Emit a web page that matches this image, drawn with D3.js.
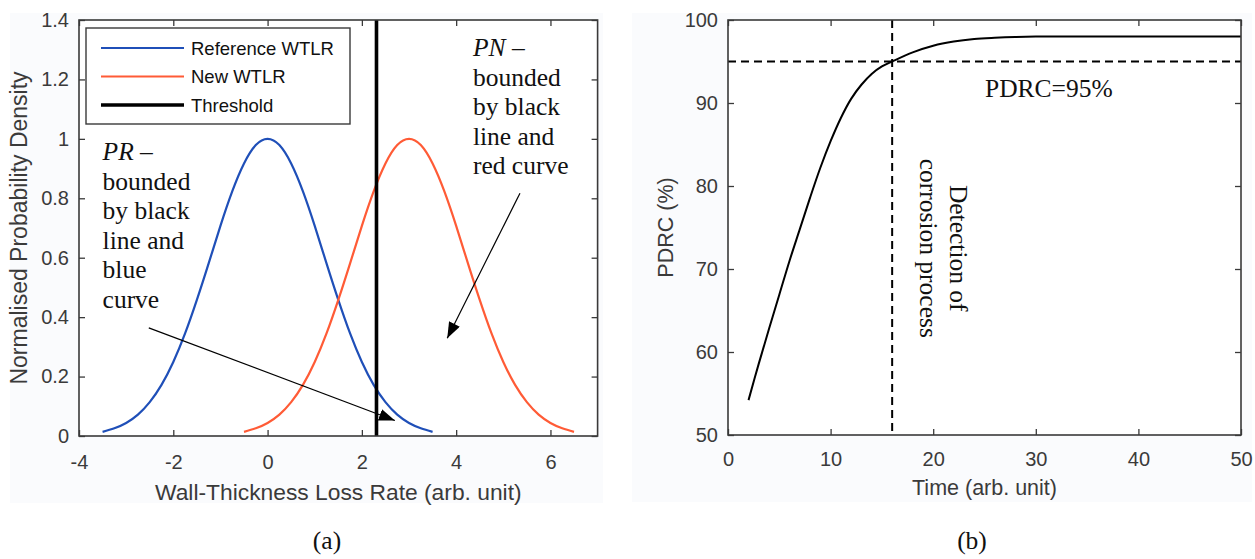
<!DOCTYPE html>
<html>
<head>
<meta charset="utf-8">
<script src="https://cdn.jsdelivr.net/npm/d3@7"></script>
<style>
  body { margin: 0; background: #fff; }
  .tick text { font-family: "Liberation Sans", Arial, sans-serif; font-size: 20px; fill: #3a3a3a; }
  .tick line { stroke: #3a3a3a; stroke-width: 1.3; }
  .axis-label { font-family: "Liberation Sans", Arial, sans-serif; font-size: 21.5px; fill: #3a3a3a; }
  .serif { font-family: "Liberation Serif", "Times New Roman", serif; font-size: 25.5px; fill: #111; }
</style>
</head>
<body>
<svg id="chart" width="1255" height="559"></svg>
<script>
// panel (a): normalised densities, read at 0.25 steps around each mean
const wtlrOffsets = [-3.5, -3.25, -3, -2.75, -2.5, -2.25, -2, -1.75, -1.5, -1.25, -1, -0.75, -0.5, -0.25, 0,
                     0.25, 0.5, 0.75, 1, 1.25, 1.5, 1.75, 2, 2.25, 2.5, 2.75, 3, 3.25, 3.5];
const densityValues = [0.014, 0.026, 0.044, 0.072, 0.114, 0.172, 0.249, 0.345, 0.458, 0.581, 0.707, 0.823, 0.917, 0.979, 1,
                       0.979, 0.917, 0.823, 0.707, 0.581, 0.458, 0.345, 0.249, 0.172, 0.114, 0.072, 0.044, 0.026, 0.014];
const referenceMean = 0;
const newMean = 3;
const threshold = 2.31;
const legendLabels = ["Reference WTLR", "New WTLR", "Threshold"];
const legendColors = ["#1f4fb8", "#ff5b36", "#000"];
const xTicksA = [-4, -2, 0, 2, 4, 6];
const yTicksA = [0, 0.2, 0.4, 0.6, 0.8, 1, 1.2, 1.4];

// panel (b): PDRC vs time
const timeValues = [2, 3, 4, 5, 6, 7, 8, 9, 10, 11, 12, 13, 14, 15, 16, 18, 20, 22, 24, 26, 28, 30, 35, 40, 45, 50];
const pdrcValues = [54.2, 58.6, 62.8, 66.9, 71, 74.8, 78.6, 82.2, 85.4, 88.2, 90.5, 92.2, 93.5, 94.4, 95.0, 96.1, 96.9, 97.4, 97.7, 97.85, 97.95, 98, 98, 98, 98, 98];
const pdrcLevel = 95;
const detectionTime = 16;
const xTicksB = [0, 10, 20, 30, 40, 50];
const yTicksB = [50, 60, 70, 80, 90, 100];

const svg = d3.select("#chart");
const axisColor = "#3a3a3a";

// faint figure backgrounds
svg.append("rect").attr("x", 10).attr("y", 13).attr("width", 593).attr("height", 490).attr("fill", "#fafbfd");
svg.append("rect").attr("x", 632).attr("y", 13).attr("width", 620).attr("height", 489).attr("fill", "#fafbfd");

// arrowhead marker
svg.append("defs").append("marker")
    .attr("id", "head")
    .attr("markerUnits", "userSpaceOnUse")
    .attr("viewBox", "0 -6 16 12")
    .attr("refX", 16).attr("refY", 0)
    .attr("markerWidth", 16).attr("markerHeight", 12)
    .attr("orient", "auto")
  .append("path")
    .attr("d", "M0,-6L16,0L0,6Z")
    .attr("fill", "#000");

const plain = d => String(d);

function frame(x, y, xt, yt, padX, padY) {
  const [x0, x1] = x.range(), [y0, y1] = y.range();
  const g = svg.append("g");
  g.append("rect")
      .attr("x", x0).attr("y", y1)
      .attr("width", x1 - x0).attr("height", y0 - y1)
      .attr("fill", "#fff");
  g.append("g").attr("transform", "translate(0," + y0 + ")")
      .call(d3.axisBottom(x).tickValues(xt).tickSize(-6).tickPadding(padX).tickFormat(plain))
      .call(a => a.select(".domain").remove());
  g.append("g").attr("transform", "translate(" + x0 + ",0)")
      .call(d3.axisLeft(y).tickValues(yt).tickSize(-6).tickPadding(padY).tickFormat(plain))
      .call(a => a.select(".domain").remove());
  g.append("g").attr("transform", "translate(0," + y1 + ")")
      .call(d3.axisTop(x).tickValues(xt).tickSize(-6).tickFormat(""))
      .call(a => a.select(".domain").remove());
  g.append("g").attr("transform", "translate(" + x1 + ",0)")
      .call(d3.axisRight(y).tickValues(yt).tickSize(-6).tickFormat(""))
      .call(a => a.select(".domain").remove());
  g.selectAll(".tick text").attr("font-family", null).attr("font-size", null);
  return g;
}

function box(x, y) {
  const [x0, x1] = x.range(), [y0, y1] = y.range();
  svg.append("rect")
      .attr("x", x0).attr("y", y1)
      .attr("width", x1 - x0).attr("height", y0 - y1)
      .attr("fill", "none").attr("stroke", axisColor).attr("stroke-width", 1.6);
}

// ---------- panel (a) ----------
const xA = d3.scaleLinear().domain([-4, 7]).range([79, 597.6]);
const yA = d3.scaleLinear().domain([0, 1.4]).range([436, 20]);
frame(xA, yA, xTicksA, yTicksA, 19, 10);

const curveA = d3.line()
    .x(d => xA(d[0]))
    .y(d => yA(d[1]))
    .curve(d3.curveNatural);

[referenceMean, newMean].forEach((m, i) => {
  svg.append("path")
      .datum(wtlrOffsets.map((o, j) => [m + o, densityValues[j]]))
      .attr("d", curveA)
      .attr("fill", "none")
      .attr("stroke", legendColors[i])
      .attr("stroke-width", 2.2);
});

svg.append("line")
    .attr("x1", xA(threshold)).attr("x2", xA(threshold))
    .attr("y1", yA(0)).attr("y2", yA(1.4))
    .attr("stroke", "#000").attr("stroke-width", 3.6);

// legend
const legend = svg.append("g");
legend.append("rect")
    .attr("x", 86).attr("y", 28).attr("width", 264).attr("height", 96)
    .attr("fill", "#fff").attr("stroke", axisColor).attr("stroke-width", 1.4);
legendLabels.forEach((lab, i) => {
  const yy = 48 + i * 28.5;
  legend.append("line")
      .attr("x1", 101).attr("x2", 184).attr("y1", yy).attr("y2", yy)
      .attr("stroke", legendColors[i]).attr("stroke-width", i == 2 ? 3.6 : 2.2);
  legend.append("text")
      .attr("x", 191).attr("y", yy + 6.5)
      .attr("font-family", "Liberation Sans, Arial, sans-serif")
      .attr("font-size", 18.5).attr("fill", "#111")
      .text(lab);
});

// annotations
function note(x, y, head, lines) {
  const t = svg.append("text").attr("class", "serif").attr("x", x).attr("y", y);
  t.append("tspan").attr("font-style", "italic").text(head);
  t.append("tspan").text(" \u2013");
  lines.forEach(l => t.append("tspan").attr("x", x).attr("dy", 29.6).text(l));
}
note(xA(-3.5), yA(0.929), "PR", ["bounded", "by black", "line and", "blue", "curve"]);
note(xA(4.356), yA(1.279), "PN", ["bounded", "by black", "line and", "red curve"]);

const arrows = [
  [[-2.52, 0.364], [2.70, 0.052]],
  [[5.353, 0.817], [3.811, 0.329]]
];
arrows.forEach(a => {
  svg.append("line")
      .attr("x1", xA(a[0][0])).attr("y1", yA(a[0][1]))
      .attr("x2", xA(a[1][0])).attr("y2", yA(a[1][1]))
      .attr("stroke", "#000").attr("stroke-width", 1.2)
      .attr("marker-end", "url(#head)");
});

box(xA, yA);

svg.append("text").attr("class", "axis-label")
    .attr("text-anchor", "middle").attr("font-size", 22.8).style("font-size", "22.8px")
    .attr("x", (xA.range()[0] + xA.range()[1]) / 2).attr("y", 500)
    .text("Wall-Thickness Loss Rate (arb. unit)");
svg.append("text").attr("class", "axis-label")
    .attr("text-anchor", "middle").style("font-size", "23px")
    .attr("transform", "translate(27," + (yA.range()[0] + yA.range()[1]) / 2 + ") rotate(-90)")
    .text("Normalised Probability Density");

// ---------- panel (b) ----------
const xB = d3.scaleLinear().domain([0, 50]).range([728, 1241]);
const yB = d3.scaleLinear().domain([50, 100]).range([435, 20]);
frame(xB, yB, xTicksB, yTicksB, 17, 10);

const dash = "8,5";
svg.append("line")
    .attr("x1", xB(0)).attr("x2", xB(50))
    .attr("y1", yB(pdrcLevel)).attr("y2", yB(pdrcLevel))
    .attr("stroke", "#000").attr("stroke-width", 2).attr("stroke-dasharray", dash);
svg.append("line")
    .attr("x1", xB(detectionTime)).attr("x2", xB(detectionTime))
    .attr("y1", yB(100)).attr("y2", yB(50))
    .attr("stroke", "#000").attr("stroke-width", 2).attr("stroke-dasharray", dash);

svg.append("path")
    .datum(timeValues.map((t, i) => [t, pdrcValues[i]]))
    .attr("d", d3.line().x(d => xB(d[0])).y(d => yB(d[1])).curve(d3.curveCatmullRom))
    .attr("fill", "none").attr("stroke", "#000").attr("stroke-width", 2);

svg.append("text").attr("class", "serif")
    .attr("x", xB(25.05)).attr("y", yB(90.7))
    .text("PDRC=95%");

const det = svg.append("text").attr("class", "serif")
    .attr("text-anchor", "middle")
    .attr("transform", "translate(" + xB(21.65) + "," + yB(72.5) + ") rotate(90)");
det.append("tspan").attr("x", 0).attr("y", 0).text("Detection of");
det.append("tspan").attr("x", 0).attr("y", 30).text("corrosion process");

box(xB, yB);

svg.append("text").attr("class", "axis-label")
    .attr("text-anchor", "middle")
    .attr("x", (xB.range()[0] + xB.range()[1]) / 2).attr("y", 495)
    .text("Time (arb. unit)");
svg.append("text").attr("class", "axis-label")
    .attr("text-anchor", "middle")
    .attr("transform", "translate(673," + (yB.range()[0] + yB.range()[1]) / 2 + ") rotate(-90)")
    .text("PDRC (%)");

// captions
svg.append("text").attr("class", "serif").attr("text-anchor", "middle")
    .attr("x", 327).attr("y", 549).text("(a)");
svg.append("text").attr("class", "serif").attr("text-anchor", "middle")
    .attr("x", 972).attr("y", 549).text("(b)");
</script>
</body>
</html>
